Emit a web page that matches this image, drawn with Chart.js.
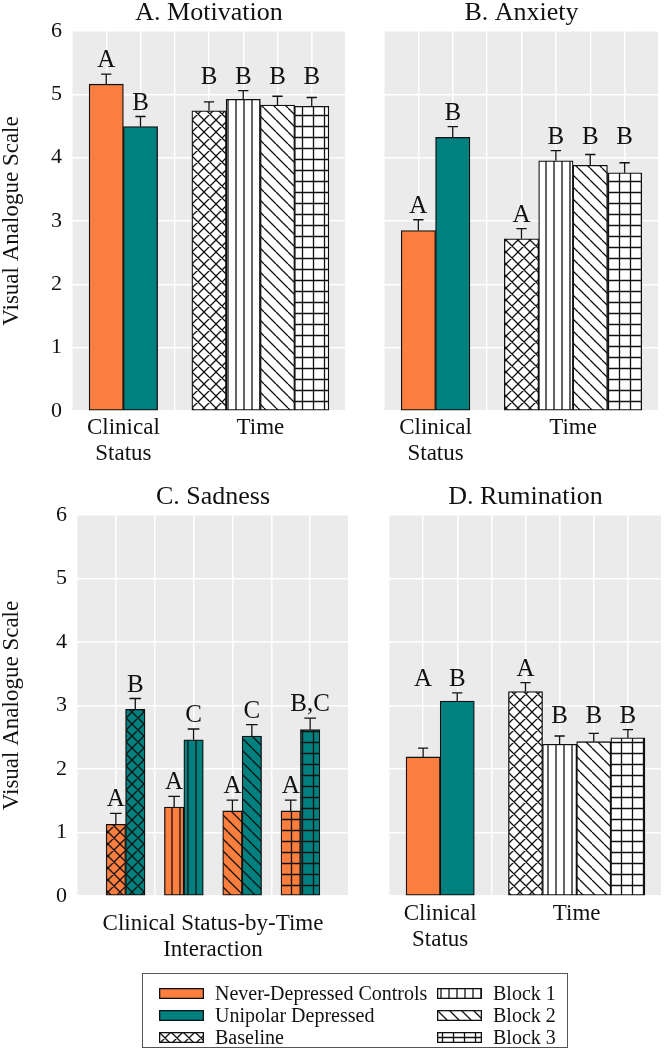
<!DOCTYPE html>
<html>
<head>
<meta charset="utf-8">
<script src="https://cdn.jsdelivr.net/npm/chart.js@4.4.1/dist/chart.umd.min.js"></script>
<style>
  body { margin: 0; background: #fff; }
  #page { position: relative; width: 664px; height: 1050px; font-family: "Liberation Serif", "Times New Roman", serif; color: #111; }
  #page canvas.panel { position: absolute; }
  #legend { position: absolute; left: 142px; top: 973px; width: 426px; height: 75px; border: 1.5px solid #555; box-sizing: border-box; }
  .item { position: absolute; height: 22px; font-size: 20px; line-height: 22px; display: flex; align-items: center; white-space: nowrap; }
  .item canvas { margin-right: 11px; }
</style>
</head>
<body>
<div id="page">
  <canvas id="motivation" class="panel" width="350" height="470" style="left:0;top:0"></canvas>
  <canvas id="anxiety" class="panel" width="314" height="470" style="left:350px;top:0"></canvas>
  <canvas id="sadness" class="panel" width="352" height="486" style="left:0;top:484px"></canvas>
  <canvas id="rumination" class="panel" width="312" height="470" style="left:352px;top:484px"></canvas>
  <div id="legend"></div>
</div>
<script>
const FONT = "'Liberation Serif', 'Times New Roman', serif";
const INK = '#111';
const ORANGE = '#fc7f3f';
const TEAL = '#00807f';
const PANEL_BG = '#ebebeb';

// categories and axis
const statusCats = ['Never-Depressed Controls', 'Unipolar Depressed'];
const timeCats = ['Baseline', 'Block 1', 'Block 2', 'Block 3'];
const timeHatch = ['cross', 'vert', 'diag', 'grid'];
const yTicks = [0, 1, 2, 3, 4, 5, 6];
const yTitle = 'Visual Analogue Scale';

// A. Motivation
const motivationStatus = [5.16, 4.49];
const motivationStatusSE = [0.16, 0.16];
const motivationStatusLetters = ['A', 'B'];
const motivationTime = [4.74, 4.92, 4.83, 4.81];
const motivationTimeSE = [0.14, 0.14, 0.14, 0.14];
const motivationTimeLetters = ['B', 'B', 'B', 'B'];

// B. Anxiety
const anxietyStatus = [2.85, 4.32];
const anxietyStatusSE = [0.17, 0.17];
const anxietyStatusLetters = ['A', 'B'];
const anxietyTime = [2.72, 3.95, 3.88, 3.76];
const anxietyTimeSE = [0.16, 0.16, 0.17, 0.16];
const anxietyTimeLetters = ['A', 'B', 'B', 'B'];

// C. Sadness (status-by-time)
const sadnessControls = [1.13, 1.40, 1.34, 1.34];
const sadnessControlsSE = [0.17, 0.17, 0.17, 0.17];
const sadnessControlsLetters = ['A', 'A', 'A', 'A'];
const sadnessDepressed = [2.94, 2.46, 2.52, 2.62];
const sadnessDepressedSE = [0.17, 0.17, 0.18, 0.18];
const sadnessDepressedLetters = ['B', 'C', 'C', 'B,C'];

// D. Rumination
const ruminationStatus = [2.19, 3.07];
const ruminationStatusSE = [0.14, 0.13];
const ruminationStatusLetters = ['A', 'B'];
const ruminationTime = [3.22, 2.39, 2.43, 2.49];
const ruminationTimeSE = [0.14, 0.13, 0.13, 0.13];
const ruminationTimeLetters = ['A', 'B', 'B', 'B'];

function hatch(kind, base) {
  const s = { cross: 12, vert: 8, diag: 12, grid: 11 }[kind];
  const c = document.createElement('canvas');
  c.width = c.height = s;
  const g = c.getContext('2d');
  g.fillStyle = base;
  g.fillRect(0, 0, s, s);
  g.strokeStyle = INK;
  g.lineWidth = 1.3;
  g.beginPath();
  if (kind === 'vert' || kind === 'grid') { g.moveTo(s / 2, 0); g.lineTo(s / 2, s); }
  if (kind === 'grid') { g.moveTo(0, s / 2); g.lineTo(s, s / 2); }
  if (kind === 'diag' || kind === 'cross') {
    for (const k of [-1, 0, 1]) { g.moveTo(k * s, 0); g.lineTo(k * s + s, s); }
  }
  if (kind === 'cross') {
    for (const k of [-1, 0, 1]) { g.moveTo(k * s, s); g.lineTo(k * s + s, 0); }
  }
  g.stroke();
  return g.createPattern(c, 'repeat');
}

const barStyle = {
  grouped: false,
  categoryPercentage: 1,
  barPercentage: 1,
  borderColor: INK,
  borderWidth: 1.3,
  borderSkipped: false
};

// grey panel background
const panelBg = {
  id: 'panelBg',
  beforeDraw(chart) {
    const { ctx, chartArea: a } = chart;
    ctx.save();
    ctx.fillStyle = PANEL_BG;
    ctx.fillRect(a.left, a.top, a.right - a.left, a.bottom - a.top);
    ctx.restore();
  }
};

// upper error bars + significance letters
const errorLetters = {
  id: 'errorLetters',
  afterDatasetsDraw(chart) {
    const { ctx, scales: { x, y } } = chart;
    const capHalf = x.getPixelForValue(0.15) - x.getPixelForValue(0);
    ctx.save();
    ctx.strokeStyle = INK;
    ctx.lineWidth = 1.3;
    ctx.fillStyle = INK;
    ctx.font = '25px ' + FONT;
    ctx.textAlign = 'center';
    ctx.textBaseline = 'alphabetic';
    chart.data.datasets.forEach((ds, di) => {
      const bars = chart.getDatasetMeta(di).data;
      const tops = ds.data.map((d, i) => y.getPixelForValue(d.y + ds.se[i]));
      bars.forEach((bar, i) => {
        ctx.beginPath();
        ctx.moveTo(bar.x, bar.y);
        ctx.lineTo(bar.x, tops[i]);
        ctx.moveTo(bar.x - capHalf, tops[i]);
        ctx.lineTo(bar.x + capHalf, tops[i]);
        ctx.stroke();
        let top = tops[i];
        if (ds.letterAlign === 'all') top = Math.min(...tops);
        if (ds.letterAlign === 'byLetter') top = Math.min(...tops.filter((t, j) => ds.letters[j] === ds.letters[i]));
        ctx.fillText(ds.letters[i], bar.x, top - 7);
      });
    });
    ctx.restore();
  }
};

function statusTimeSets(status, statusSE, statusLetters, statusAlign, time, timeSE, timeLetters) {
  const timeStart = statusCats.length + 2;
  return [
    Object.assign({
      data: status.map((v, i) => ({ x: i + 1, y: v })),
      backgroundColor: [ORANGE, TEAL],
      se: statusSE, letters: statusLetters, letterAlign: statusAlign
    }, barStyle),
    Object.assign({
      data: time.map((v, i) => ({ x: timeStart + i, y: v })),
      backgroundColor: timeHatch.map(k => hatch(k, '#fff')),
      se: timeSE, letters: timeLetters, letterAlign: 'byLetter'
    }, barStyle)
  ];
}

function mean(a) { return a.reduce((s, v) => s + v, 0) / a.length; }

function statusTimeTicks(sets) {
  return [
    { at: mean(sets[0].data.map(d => d.x)), label: ['Clinical', 'Status'] },
    { at: mean(sets[1].data.map(d => d.x)), label: 'Time' }
  ];
}

function drawPanel(id, title, datasets, xMax, groupTicks, o) {
  const axisFont = { family: FONT, size: 22 };
  return new Chart(document.getElementById(id), {
    type: 'bar',
    data: { datasets },
    options: {
      responsive: false,
      animation: false,
      layout: { padding: { left: 0, right: o.right, top: 0, bottom: 0 } },
      plugins: {
        legend: { display: false },
        tooltip: { enabled: false },
        title: {
          display: true, text: title, fullSize: false, color: INK,
          font: { family: FONT, size: 26, weight: 'normal', lineHeight: 1 },
          padding: { top: 0, bottom: 5 }
        }
      },
      scales: {
        x: {
          type: 'linear', min: 0, max: xMax, offset: false,
          ticks: { display: false, stepSize: 1 },
          grid: { color: '#fff', lineWidth: 1.5, drawTicks: false, offset: false },
          border: { display: false },
          afterFit: s => { s.height = 0; }
        },
        xl: {
          type: 'linear', position: 'bottom', min: 0, max: xMax, offset: false,
          grid: { display: false },
          border: { display: false },
          afterBuildTicks: s => { s.ticks = groupTicks.map(t => ({ value: t.at })); },
          ticks: {
            autoSkip: false, maxRotation: 0, color: INK, padding: o.labelPad,
            font: { family: FONT, size: 23, lineHeight: 1.13 },
            callback: v => groupTicks.find(t => t.at === v).label
          },
          afterFit: s => { s.height = o.bottom; }
        },
        y: {
          min: 0, max: 6,
          afterBuildTicks: s => { s.ticks = yTicks.map(v => ({ value: v })); },
          ticks: { display: o.yLabels, padding: 10, color: INK, font: axisFont },
          grid: { color: '#fff', lineWidth: 1.5, drawTicks: false },
          border: { display: false },
          title: { display: o.yLabels, text: yTitle, color: INK, font: { family: FONT, size: 23, lineHeight: 1 }, padding: 0 },
          afterFit: s => { s.width = o.left; }
        }
      }
    },
    plugins: [panelBg, errorLetters]
  });
}

// A
const motivationSets = statusTimeSets(motivationStatus, motivationStatusSE, motivationStatusLetters, 'none',
  motivationTime, motivationTimeSE, motivationTimeLetters);
drawPanel('motivation', 'A. Motivation', motivationSets, statusCats.length + 2 + timeCats.length,
  statusTimeTicks(motivationSets), { left: 72, right: 4, bottom: 59, labelPad: -4, yLabels: true });

// B
const anxietySets = statusTimeSets(anxietyStatus, anxietyStatusSE, anxietyStatusLetters, 'none',
  anxietyTime, anxietyTimeSE, anxietyTimeLetters);
drawPanel('anxiety', 'B. Anxiety', anxietySets, statusCats.length + 2 + timeCats.length,
  statusTimeTicks(anxietySets), { left: 34, right: 5, bottom: 59, labelPad: -4, yLabels: false });

// C: one pair of bars per time point
const pairStep = 1.5;
const sadnessSets = [
  Object.assign({
    data: sadnessControls.map((v, i) => ({ x: 1 + pairStep * i, y: v })),
    backgroundColor: timeHatch.map(k => hatch(k, ORANGE)),
    se: sadnessControlsSE, letters: sadnessControlsLetters, letterAlign: 'none'
  }, barStyle),
  Object.assign({
    data: sadnessDepressed.map((v, i) => ({ x: 1.5 + pairStep * i, y: v })),
    backgroundColor: timeHatch.map(k => hatch(k, TEAL)),
    se: sadnessDepressedSE, letters: sadnessDepressedLetters, letterAlign: 'none'
  }, barStyle)
];
const sadnessMax = 2 + pairStep * timeCats.length - 1;
drawPanel('sadness', 'C. Sadness', sadnessSets, sadnessMax,
  [{ at: sadnessMax / 2, label: ['Clinical Status-by-Time', 'Interaction'] }],
  { left: 77, right: 3, bottom: 74, labelPad: 7, yLabels: true });

// D
const ruminationSets = statusTimeSets(ruminationStatus, ruminationStatusSE, ruminationStatusLetters, 'all',
  ruminationTime, ruminationTimeSE, ruminationTimeLetters);
drawPanel('rumination', 'D. Rumination', ruminationSets, statusCats.length + 2 + timeCats.length,
  statusTimeTicks(ruminationSets), { left: 37, right: 2, bottom: 58, labelPad: -3, yLabels: false });

// legend
const legendItems = [
  { label: statusCats[0], fill: ORANGE },
  { label: statusCats[1], fill: TEAL },
  { label: timeCats[0], fill: hatch(timeHatch[0], '#fff') },
  { label: timeCats[1], fill: hatch(timeHatch[1], '#fff') },
  { label: timeCats[2], fill: hatch(timeHatch[2], '#fff') },
  { label: timeCats[3], fill: hatch(timeHatch[3], '#fff') }
];
const legend = document.getElementById('legend');
legendItems.forEach((it, i) => {
  const col = Math.floor(i / 3), row = i % 3;
  const div = document.createElement('div');
  div.className = 'item';
  div.style.left = (col ? 294 : 16) + 'px';
  div.style.top = (8 + row * 22) + 'px';
  const sw = document.createElement('canvas');
  sw.width = 45; sw.height = 11;
  const g = sw.getContext('2d');
  g.fillStyle = it.fill;
  g.fillRect(0, 0, 45, 11);
  g.strokeStyle = INK;
  g.lineWidth = 1.3;
  g.strokeRect(0.65, 0.65, 43.7, 9.7);
  div.appendChild(sw);
  div.appendChild(document.createTextNode(it.label));
  legend.appendChild(div);
});
</script>
</body>
</html>
